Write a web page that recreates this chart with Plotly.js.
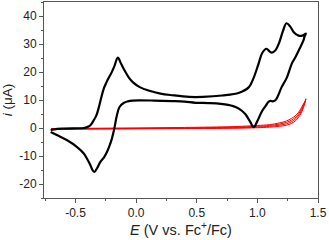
<!DOCTYPE html>
<html>
<head>
<meta charset="utf-8">
<script src="https://cdn.plot.ly/plotly-3.0.1.min.js"></script>
<style>html,body{margin:0;padding:0;background:#fff;}#chart{width:329px;height:240px;}</style>
</head>
<body>
<div id="chart"></div>
<script>
// Black CV (forward then reverse sweep)
const blackE = [-0.705, -0.65, -0.596, -0.52, -0.432, -0.40, -0.377, -0.35, -0.328, -0.31, -0.287, -0.265, -0.246, -0.225, -0.205, -0.18, -0.151, -0.125, -0.096, -0.06, -0.028, 0.03, 0.109, 0.20, 0.30, 0.437, 0.55, 0.71, 0.85, 0.93, 0.97, 1.01, 1.04, 1.075, 1.10, 1.12, 1.15, 1.18, 1.21, 1.24, 1.27, 1.30, 1.34, 1.37, 1.40,
  1.39, 1.38, 1.35, 1.31, 1.284, 1.243, 1.20, 1.17, 1.148, 1.125, 1.107, 1.09, 1.07, 1.038, 1.00, 0.97, 0.94, 0.90, 0.847, 0.80, 0.70, 0.60, 0.49, 0.40, 0.30, 0.15, 0.027, -0.03, -0.069, -0.10, -0.137, -0.159, -0.18, -0.20, -0.22, -0.241, -0.265, -0.295, -0.32, -0.344, -0.36, -0.377, -0.405, -0.432, -0.487, -0.569, -0.65, -0.705];
const blackI = [-0.7, -0.3, -0.2, -0.1, 0.0, 0.4, 1.0, 2.75, 4.5, 7.0, 11.0, 14.3, 16.2, 18.0, 19.6, 22.0, 25.1, 23.0, 20.6, 18.0, 16.4, 14.6, 13.3, 12.3, 11.7, 11.1, 11.1, 11.6, 12.6, 14.6, 18.0, 23.0, 26.8, 28.3, 27.4, 26.9, 27.8, 30.5, 34.5, 37.4, 36.3, 34.2, 33.0, 33.0, 33.7,
  32.8, 31.3, 28.5, 25.0, 23.0, 18.0, 14.6, 11.5, 9.9, 9.5, 9.7, 9.3, 8.0, 6.0, 2.5, 0.3, 2.3, 5.0, 6.9, 7.8, 8.6, 8.9, 9.0, 9.4, 9.6, 9.8, 9.9, 9.8, 9.5, 9.0, 7.5, 4.5, -0.2, -3.8, -6.4, -8.6, -10.5, -12.1, -14.2, -15.7, -15.0, -13.3, -11.0, -9.1, -6.8, -4.4, -2.6, -1.4];

// Red blank scans (several overlapping cycles)
const redE = [-0.70, -0.40, 0.00, 0.40, 0.80, 1.00, 1.10, 1.18, 1.24, 1.28, 1.32, 1.35, 1.38, 1.40];
const redA = [-0.5, -0.4, -0.3, -0.2, -0.1, 0.1, 0.3, 0.6, 1.0, 1.6, 2.8, 4.5, 7.2, 10.5];
const redB = [-0.4, -0.3, -0.2, -0.1, 0.1, 0.3, 0.6, 1.0, 1.5, 2.2, 3.4, 5.1, 7.7, 10.4];
const redC = [-0.3, -0.2, -0.1, 0.0, 0.3, 0.6, 0.9, 1.4, 2.0, 2.8, 4.0, 5.7, 8.2, 10.2];
const redD = [-0.2, -0.1, 0.0, 0.2, 0.5, 0.9, 1.2, 1.8, 2.5, 3.4, 4.6, 6.3, 8.6, 10.0];

const xTickVals = [-0.5, 0.0, 0.5, 1.0, 1.5];
const xTickText = ["-0.5", "0.0", "0.5", "1.0", "1.5"];
const yTickVals = [-20, -10, 0, 10, 20, 30, 40];
const yTickText = ["-20", "-10", "0", "10", "20", "30", "40"];

const redLine = {color: '#ff0000', width: 1, shape: 'spline', smoothing: 1};
const traces = [redA, redB, redC, redD].map(s => ({x: redE, y: s, mode: 'lines', line: redLine, hoverinfo: 'skip'}));
traces.push({x: blackE, y: blackI, mode: 'lines', line: {color: '#000', width: 2.2, shape: 'spline', smoothing: 1}, hoverinfo: 'skip'});

const axisCommon = {
  showline: true, mirror: true, linecolor: '#555', linewidth: 1,
  ticks: 'outside', ticklen: 4, tickcolor: '#555', tickwidth: 1,
  showgrid: false, zeroline: false,
  tickfont: {family: 'Liberation Sans, Arial, sans-serif', size: 12, color: '#222'}
};

const layout = {
  width: 329, height: 240,
  margin: {l: 44, r: 11, t: 2, b: 42},
  paper_bgcolor: '#fff', plot_bgcolor: '#fff',
  showlegend: false,
  font: {family: 'Liberation Sans, Arial, sans-serif', color: '#222'},
  xaxis: Object.assign({}, axisCommon, {
    range: [-0.76, 1.5], tickmode: 'array', tickvals: xTickVals, ticktext: xTickText,
    minor: {ticks: 'outside', dtick: 0.25, tick0: 0, ticklen: 2, tickcolor: '#555'},
    title: {text: '<i>E</i> (V vs. Fc<sup>+</sup>/Fc)', font: {size: 14.5, color: '#222'}, standoff: 1}
  }),
  yaxis: Object.assign({}, axisCommon, {
    range: [-25, 45], tickmode: 'array', tickvals: yTickVals, ticktext: yTickText,
    minor: {ticks: 'outside', dtick: 5, tick0: 0, ticklen: 2, tickcolor: '#555'},
    title: {text: '<i>i</i> (μA)', font: {size: 13.5, color: '#222'}, standoff: 3}
  })
};

Plotly.newPlot('chart', traces, layout, {staticPlot: true, displayModeBar: false});
</script>
</body>
</html>
